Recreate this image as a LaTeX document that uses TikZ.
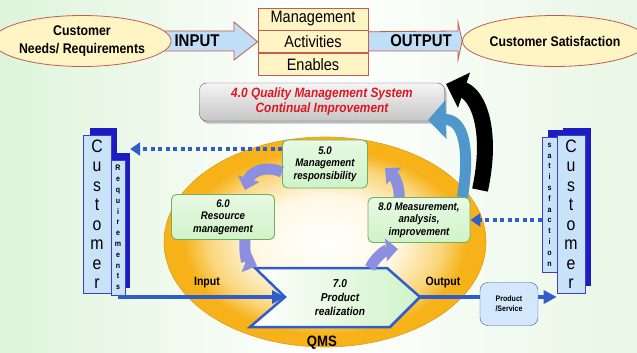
\documentclass[tikz,border=0pt]{standalone}
\usepackage{fontspec}
\setmainfont{Liberation Sans}[FakeStretch=0.88]
\usetikzlibrary{arrows.meta}
\usetikzlibrary{shapes.geometric}
\usetikzlibrary{shadows}
\usetikzlibrary{positioning}
\pgfdeclarelayer{back}
\pgfdeclarelayer{behind}
\pgfsetlayers{back,behind,main}
\definecolor{bggreen}{RGB}{222,244,218}
\definecolor{paleyel}{RGB}{255,244,196}
\definecolor{boxred}{RGB}{196,92,80}
\definecolor{arrblue}{RGB}{192,222,246}
\definecolor{qmsorange}{RGB}{246,178,24}
\definecolor{qmsmid}{RGB}{250,214,124}
\definecolor{glowyel}{RGB}{255,248,228}
\definecolor{greenfill}{RGB}{208,243,200}
\definecolor{greenline}{RGB}{112,176,96}
\definecolor{flowblue}{RGB}{48,92,204}
\definecolor{darkblue}{RGB}{28,28,196}
\definecolor{colblue}{RGB}{200,226,250}
\definecolor{curlblue}{RGB}{140,142,224}
\definecolor{curvblue}{RGB}{80,152,204}
\definecolor{titlered}{RGB}{222,22,34}
\pgfdeclareradialshading{qmsglow}{\pgfpoint{0bp}{0bp}}{color(0bp)=(white); color(11bp)=(glowyel); color(18bp)=(qmsmid); color(22bp)=(qmsorange); color(50bp)=(qmsorange)}

\begin{document}
\begin{tikzpicture}[x=1pt,y=-1pt,
    ell/.style={ellipse,draw=boxred,fill=paleyel,line width=0.8pt,minimum width=150,minimum height=51,inner sep=0pt,align=center,font=\bfseries\fontsize{14}{18}\selectfont},
    rowbox/.style={draw=boxred,fill=paleyel,line width=0.8pt,minimum width=110,minimum height=22,inner sep=0pt,font=\fontsize{16.5}{17}\selectfont},
    fatarrow/.style={draw=boxred,fill=arrblue,line width=0.8pt},
    biglabel/.style={font=\bfseries\fontsize{17}{17}\selectfont},
    titlebox/.style={draw=gray!70!black,rounded corners=7pt,top color=gray!8,bottom color=gray!45,minimum width=245,minimum height=38,align=center,text=titlered,font=\bfseries\itshape\fontsize{13.5}{15}\selectfont,drop shadow={shadow xshift=2pt,shadow yshift=-2.5pt,opacity=0.5}},
    qmsell/.style={ellipse,shading=qmsglow,draw=qmsorange!90!black,line width=0.6pt,minimum width=322,minimum height=210,inner sep=0pt},
    greenbox/.style={draw=greenline,line width=0.9pt,rounded corners=5pt,top color=greenfill!50!white,bottom color=greenfill,align=center,inner sep=2pt,font=\bfseries\itshape\fontsize{11}{12.5}\selectfont},
    chevron/.style={draw=flowblue,line width=2.5pt,left color=white,right color=greenfill,line join=miter},
    curl/.style={line width=11pt,draw=curlblue,-{Triangle[width=22pt,length=12pt]}},
    colshadow/.style={fill=darkblue,inner sep=0pt},
    colbox/.style={draw=gray!50!blue,fill=colblue,line width=0.6pt,inner sep=0pt,align=center},
    dotarrow/.style={draw=flowblue,line width=3.2pt,dash pattern=on 4pt off 3.5pt,-{Triangle[width=13pt,length=10pt]}},
    flowline/.style={draw=flowblue,line width=3.5pt,-{Triangle[width=13pt,length=13pt]}},
    smalllabel/.style={font=\bfseries\fontsize{12}{12}\selectfont},
    prodbox/.style={draw=gray!60!blue,fill=colblue!80!white,rounded corners=8pt,minimum width=58,minimum height=43,align=center,font=\bfseries\fontsize{8}{10}\selectfont}
  ]
  \begin{pgfonlayer}{back}
    \shade[left color=bggreen,right color=bggreen!70!white,middle color=white] (0,0) rectangle (637,353);
  \end{pgfonlayer}
  \useasboundingbox (0,0) rectangle (637,353);

  \node[ell] (needs) at (82,41) {Customer\\Needs/ Requirements};
  \node[ell] (satis) at (555,41) {Customer Satisfaction};
  \node[rowbox] (mgmt) at (313,19) {Management};
  \node[rowbox,below=0pt of mgmt] (act) {Activities};
  \node[rowbox,below=0pt of act] (enab) {Enables};
  \begin{pgfonlayer}{behind}
    \draw[fatarrow] (146,31) -- (234,31) -- (234,22) -- (act.west) -- (234,60) -- (234,51) -- (146,51) -- cycle;
    \draw[fatarrow] (act.east) ++(-6,-10) -- (458,31) -- (458,22) -- (satis.west) -- (458,60) -- (458,51) -- (362,51) -- cycle;
  \end{pgfonlayer}
  \node[biglabel] (inlabel) at (197,41) {INPUT};
  \node[biglabel] (outlabel) at (421,41) {OUTPUT};

  \node[titlebox] (improve) at (322,102) {4.0 Quality Management System\\Continual Improvement};

  \node[qmsell] (qms) at (325,242) {};
  \node[font=\bfseries\fontsize{15}{15}\selectfont] (qmslabel) at (322,343) {QMS};

  \node[greenbox,minimum width=85,minimum height=48] (resp) at (325,164) {5.0\\Management\\responsibility};
  \node[greenbox,minimum width=103,minimum height=45] (resource) at (223,217) {6.0\\Resource\\management};
  \node[greenbox,minimum width=102,minimum height=45] (measure) at (419,220) {8.0 Measurement,\\analysis,\\improvement};

  \draw[line width=16pt,black,-{Triangle[width=36pt,length=19pt]}] (480,190) .. controls (493,130) and (478,95) .. (446,84);
  \draw[line width=11pt,curvblue,-{Triangle[width=38pt,length=18pt]}] ([xshift=-8]measure.north east) .. controls (470,150) and (464,119) .. (428,120);

  \coordinate (notch) at (285,297);
  \coordinate (tip) at (420,297);
  \draw[chevron] (255,268) -- (387,268) -- (tip) -- (390,327) -- (250,327) -- (notch) -- cycle;
  \node[font=\bfseries\itshape\fontsize{11.5}{14}\selectfont,align=center] (realize) at (340,298) {7.0\\Product\\realization};

  \draw[curl] ([yshift=-8]resp.west) .. controls (262,164) and (250,174) .. (245,190);
  \draw[curl] ([xshift=22]resource.south) .. controls (244,254) and (247,262) .. (257,266);
  \draw[curl] (370,268) .. controls (376,256) and (386,250) .. (398,249);
  \draw[curl] ([xshift=-20]measure.north) .. controls (400,186) and (394,176) .. (385,168);

  \node[colshadow,minimum width=27,minimum height=164] (lcustback) at (103.5,210) {};
  \node[colshadow,minimum width=13,minimum height=135] (lreqback) at (123.5,220.5) {};
  \node[colbox,minimum width=28,minimum height=158,font=\fontsize{18}{19.5}\selectfont] (lcust) at (97,214) {C\\u\\s\\t\\o\\m\\e\\r};
  \node[colbox,minimum width=14,minimum height=135,font=\bfseries\fontsize{8}{10.8}\selectfont] (lreq) at (118,227.5) {R\\e\\q\\u\\i\\r\\e\\m\\e\\n\\t\\s};

  \node[colshadow,minimum width=15,minimum height=135] (rsatback) at (555.5,197.5) {};
  \node[colshadow,minimum width=28,minimum height=158] (rcustback) at (577,207) {};
  \node[colbox,minimum width=15,minimum height=135,font=\bfseries\fontsize{8}{10.8}\selectfont] (rsat) at (549.5,204.5) {s\\a\\t\\i\\s\\f\\a\\c\\t\\i\\o\\n};
  \node[colbox,minimum width=28,minimum height=158,font=\fontsize{18}{19.5}\selectfont] (rcust) at (571,214) {C\\u\\s\\t\\o\\m\\e\\r};

  \draw[dotarrow] ([yshift=15]resp.west) -- ([yshift=15]resp.west -| lreqback.east);
  \draw[dotarrow] (rsat.west |- measure.east) -- (measure.east);

  \draw[flowline] (lreq.south |- notch) -- (notch);
  \draw[flowline] (tip) -- (rcust.west |- tip);
  \node[smalllabel] (inputlabel) at (207,283) {Input};
  \node[smalllabel] (outputlabel) at (443,283) {Output};
  \node[prodbox] (prod) at (509,304) {Product\\/Service};
\end{tikzpicture}
\end{document}
